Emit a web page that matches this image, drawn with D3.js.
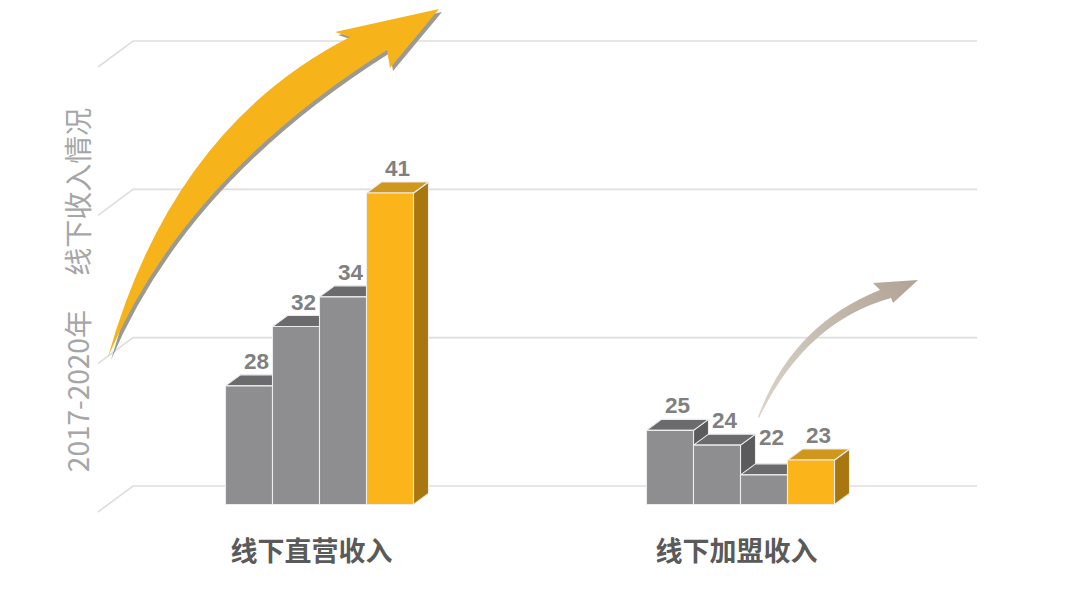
<!DOCTYPE html>
<html><head><meta charset="utf-8">
<script src="https://cdn.jsdelivr.net/npm/d3@7"></script>
<style>html,body{margin:0;padding:0;background:#fff;}svg{display:block;}</style>
</head><body>
<svg id="chart" width="1080" height="592"></svg>
<script>
// ---- data ----
const categories = ["线下直营收入", "线下加盟收入"];
const years = ["2017", "2018", "2019", "2020"];
const directValues = [28, 32, 34, 41];
const franchiseValues = [25, 24, 22, 23];
const yTicks = [20, 30, 40, 50];
const axisTitle = "2017-2020年　 线下收入情况";

const seriesByCategory = [directValues, franchiseValues];

const svg = d3.select("#chart");
const W = 1080, H = 592;
svg.append("rect").attr("width", W).attr("height", H).attr("fill", "#fff");

// scales
const y = d3.scaleLinear().domain([20, 50]).range([486, 41]);
const x0 = d3.scalePoint().domain(categories).range([319.5, 740.5]);
const x1 = d3.scaleBand().domain(years).range([-94, 94]);
const frontOffset = 18.5;  // front plane of bars below back wall
const DX = 15, DY = -11;   // depth offset

// gridlines with floor perspective
const gridG = svg.append("g");
yTicks.forEach(t => {
  const yy = y(t);
  gridG.append("path")
    .attr("d", `M98,${yy + 26} L133,${yy} L977,${yy}`)
    .attr("fill", "none").attr("stroke", "#dedede").attr("stroke-width", 1.6);
});

// arrows
const defs = svg.append("defs");
const g2 = defs.append("linearGradient").attr("id", "smallArrow")
  .attr("gradientUnits", "userSpaceOnUse")
  .attr("x1", 758).attr("y1", 417).attr("x2", 918).attr("y2", 280);
g2.append("stop").attr("offset", 0).attr("stop-color", "#ddd5cc");
g2.append("stop").attr("offset", 1).attr("stop-color", "#b1a395");

function bigArrowPath() {
  const p = d3.path();
  p.moveTo(108, 357);
  p.quadraticCurveTo(172, 128, 350, 37);
  p.lineTo(335, 32);
  p.lineTo(439, 9);
  p.lineTo(390, 68);
  p.lineTo(387, 50);
  p.quadraticCurveTo(184, 178, 108, 357);
  p.closePath();
  return p.toString();
}
function smallArrowPath() {
  const p = d3.path();
  p.moveTo(758, 417);
  p.quadraticCurveTo(792, 325, 880, 290);
  p.lineTo(873, 283);
  p.lineTo(918, 280);
  p.lineTo(893, 303);
  p.lineTo(891, 298);
  p.quadraticCurveTo(805, 322, 759, 418);
  p.closePath();
  return p.toString();
}
svg.append("path").attr("d", bigArrowPath()).attr("transform", "translate(3,3)")
  .attr("fill", "#9a9a92");
svg.append("path").attr("d", bigArrowPath()).attr("fill", "#f6b41a");
svg.append("path").attr("d", smallArrowPath()).attr("fill", "url(#smallArrow)");

// bars
const colors = {
  gray: { front: "#8e8d90", top: "#6b6a6d", side: "#5b5a5d" },
  gold: { front: "#fbb51b", top: "#cf981d", side: "#a97710" }
};
const barsG = svg.append("g");
const labelsG = svg.append("g");
categories.forEach((cat, ci) => {
  const vals = seriesByCategory[ci];
  vals.forEach((v, i) => {
    const c = i === vals.length - 1 ? colors.gold : colors.gray;
    const xl = x0(cat) + x1(years[i]);
    const w = x1.bandwidth();
    const top = y(v) + frontOffset;
    const bottom = y(20) + frontOffset;
    const g = barsG.append("g").attr("stroke", "#ececec").attr("stroke-width", 1.1).attr("stroke-linejoin", "round");
    g.append("path").attr("fill", c.side)
      .attr("d", `M${xl + w},${top} L${xl + w + DX},${top + DY} L${xl + w + DX},${bottom + DY} L${xl + w},${bottom} Z`);
    g.append("path").attr("fill", c.top)
      .attr("d", `M${xl},${top} L${xl + DX},${top + DY} L${xl + w + DX},${top + DY} L${xl + w},${top} Z`);
    g.append("rect").attr("fill", c.front)
      .attr("x", xl).attr("y", top).attr("width", w).attr("height", bottom - top);
    let ly = top + DY - 6;
    if (i > 0) ly = Math.min(ly, y(vals[i - 1]) + frontOffset);
    labelsG.append("text")
      .attr("x", xl + w / 2 + DX / 2).attr("y", ly)
      .attr("text-anchor", "middle")
      .attr("font-family", "'Liberation Sans', Arial, sans-serif")
      .attr("font-weight", "bold").attr("font-size", 22.5)
      .attr("fill", "#808080").text(v);
  });
  svg.append("text")
    .attr("x", x0(cat) - (ci === 0 ? 8 : 4)).attr("y", 561)
    .attr("text-anchor", "middle")
    .attr("font-family", "'Noto Sans CJK SC', sans-serif")
    .attr("font-weight", "bold").attr("font-size", 27)
    .attr("fill", "#5a5a5a").text(cat);
});

// axis title
svg.append("text")
  .attr("transform", "translate(77,290) rotate(-90)")
  .attr("text-anchor", "middle").attr("dominant-baseline", "central")
  .attr("font-family", "'Noto Sans CJK SC', sans-serif")
  .attr("font-size", 28).attr("fill", "#a6a6a6")
  .text(axisTitle);
</script>
</body></html>
